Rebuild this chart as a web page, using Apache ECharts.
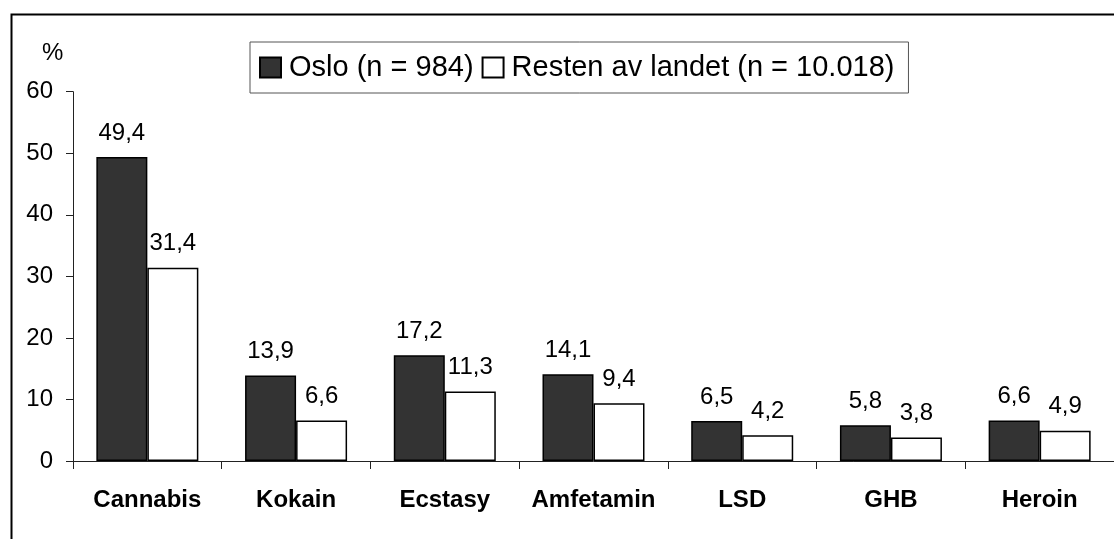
<!DOCTYPE html>
<html>
<head>
<meta charset="utf-8">
<script src="https://cdn.jsdelivr.net/npm/echarts@6/dist/echarts.min.js"></script>
<style>
  html, body { margin: 0; padding: 0; background: #fff; }
  #chart { width: 1114px; height: 539px; }
</style>
</head>
<body>
<div id="chart"></div>
<script>
// categories and values
const categories = ['Cannabis', 'Kokain', 'Ecstasy', 'Amfetamin', 'LSD', 'GHB', 'Heroin'];
const osloValues = [49.4, 13.9, 17.2, 14.1, 6.5, 5.8, 6.6];
const restValues = [31.4, 6.6, 11.3, 9.4, 4.2, 3.8, 4.9];
const seriesNames = ['Oslo (n = 984)', 'Resten av landet (n = 10.018)'];
const yTicks = { min: 0, max: 60, interval: 10 };

const font = '"Liberation Sans", Arial, Helvetica, sans-serif';

const chart = echarts.init(document.getElementById('chart'));

// value labels use a decimal comma
const commaLabel = {
  show: true,
  position: 'top',
  distance: 12,
  color: '#000',
  fontFamily: font,
  fontSize: 24,
  formatter: p => String(p.value).replace('.', ',')
};

const option = {
  animation: false,
  backgroundColor: '#fff',
  title: {
    text: '%',
    left: 42,
    top: 41,
    padding: 0,
    textStyle: { fontFamily: font, fontSize: 24, fontWeight: 'normal', color: '#000' }
  },
  legend: {
    left: 250,
    top: 42,
    padding: [11, 14, 11, 9],
    borderColor: '#555',
    borderWidth: 1,
    icon: 'rect',
    itemWidth: 21,
    itemHeight: 20,
    itemGap: 8,
    textStyle: { fontFamily: font, fontSize: 29, color: '#000', padding: [0, 0, 0, 3] },
    data: seriesNames
  },
  grid: {
    left: 73,
    right: -3,
    top: 91.7,
    bottom: 78,
    containLabel: false
  },
  xAxis: {
    type: 'category',
    data: categories,
    axisLine: { lineStyle: { color: '#222', width: 1 } },
    axisTick: { show: true, length: 8, lineStyle: { color: '#222' } },
    axisLabel: {
      interval: 0,
      hideOverlap: false,
      margin: 27,
      color: '#000',
      fontFamily: font,
      fontSize: 24,
      fontWeight: 'bold'
    }
  },
  yAxis: {
    type: 'value',
    min: yTicks.min,
    max: yTicks.max,
    interval: yTicks.interval,
    axisLine: { show: true, lineStyle: { color: '#222', width: 1 } },
    axisTick: { show: true, length: 7, lineStyle: { color: '#222' } },
    splitLine: { show: false },
    axisLabel: {
      margin: 20,
      color: '#000',
      fontFamily: font,
      fontSize: 24
    }
  },
  series: [
    {
      name: seriesNames[0],
      type: 'bar',
      data: osloValues,
      barWidth: 51,
      barGap: '0%',
      itemStyle: { color: '#333333', borderColor: '#000', borderWidth: 1.5 },
      label: commaLabel
    },
    {
      name: seriesNames[1],
      type: 'bar',
      data: restValues,
      barWidth: 51,
      itemStyle: { color: '#ffffff', borderColor: '#000', borderWidth: 1.5 },
      label: commaLabel
    }
  ],
  // outer frame of the figure, cut off at right and bottom like the picture
  graphic: [
    {
      type: 'rect',
      left: 9,
      top: 12,
      shape: { width: 1200, height: 600 },
      style: { fill: 'none', stroke: '#000', lineWidth: 2 },
      silent: true
    }
  ]
};

chart.setOption(option);
</script>
</body>
</html>
